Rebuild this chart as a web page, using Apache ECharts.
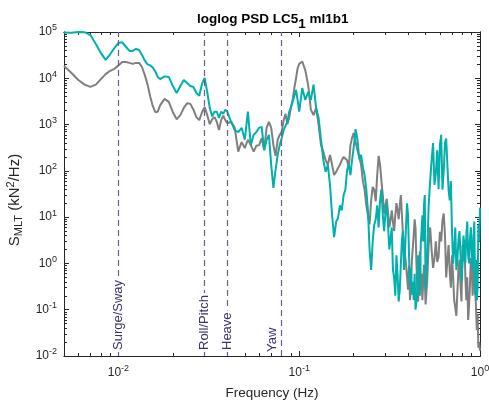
<!DOCTYPE html>
<html><head><meta charset="utf-8">
<script src="https://cdn.jsdelivr.net/npm/echarts@6/dist/echarts.min.js"></script>
<style>html,body{margin:0;padding:0;background:#fff}#c{width:489px;height:406px}</style>
</head><body><div id="c"></div><script>
// Frequency grid (Hz)
const freq = [
 0.005,0.0055,0.006,0.0065,0.007,0.0075,0.008,0.0085,0.009,0.0095,0.010,0.0105,0.011,0.0115,0.012,0.0125,0.013,0.0135,0.014,0.0145,0.015,0.0155,0.016,0.0165,
 0.017,0.018,0.019,0.020,0.021,0.022,0.023,0.024,0.025,0.026,0.027,0.028,0.029,0.030,0.031,0.032,0.033,0.034,0.035,0.036,0.037,0.038,0.039,0.040,
 0.042,0.044,0.046,0.048,0.050,0.052,0.054,0.056,0.058,0.060,0.062,0.064,0.066,0.068,0.070,0.072,0.074,0.076,0.078,0.080,0.082,0.084,0.086,0.088,0.090,0.092,0.094,0.096,0.098,0.100,
 0.104,0.108,0.112,0.116,0.120,0.124,0.128,0.132,0.136,0.140,0.144,0.148,0.152,0.156,0.160,0.164,0.168,0.172,0.176,0.180,0.184,0.188,0.192,0.196,0.200,
 0.205,0.21,0.215,0.22,0.225,0.23,0.235,0.24,0.245,0.25,0.255,0.26,0.265,0.27,0.275,0.28,0.285,0.29,0.295,0.30,
 0.305,0.31,0.315,0.32,0.325,0.33,0.335,0.34,0.345,0.35,0.355,0.36,0.365,0.37,0.375,0.38,0.385,0.39,0.395,0.40,
 0.405,0.41,0.415,0.42,0.425,0.43,0.435,0.44,0.445,0.45,0.455,0.46,0.465,0.47,0.475,0.48,0.485,0.49,0.495,0.50,
 0.51,0.52,0.53,0.54,0.55,0.56,0.57,0.58,0.59,0.60,0.61,0.62,0.63,0.64,0.65,0.66,0.67,0.68,0.69,0.70,0.71,0.72,0.73,0.74,0.75,
 0.76,0.77,0.78,0.79,0.80,0.81,0.82,0.83,0.84,0.85,0.86,0.87,0.88,0.89,0.90,0.91,0.92,0.93,0.94,0.95,0.96,0.97,0.98,0.99,1.00
];
// PSD, gray series (kN^2/Hz)
const psdGray = [
 18500,13000,9200,7300,6500,7300,9600,12300,14500,16000,19000,22500,22500,21500,20500,21500,21500,17500,11700,7300,4000,2500,1850,1900,
 2600,3600,3100,1850,1300,1600,2300,2900,2800,2100,1450,1250,1850,2400,1600,1020,1300,1450,1150,760,1250,1550,1250,1070,
 1150,850,260,420,310,470,360,260,350,360,510,280,850,1150,850,360,210,470,600,690,1250,1700,1020,1400,2400,3400,6200,10000,16500,20500,
 23000,15000,7300,2100,1600,2300,1000,360,260,170,135,220,135,81,95,115,135,170,200,220,170,115,360,510,660,
 420,280,300,135,60,39,18,11,7,23,45,39,22,81,210,135,60,30,12,18,
 25,12.5,6,8.7,14,7.9,5,11,20,14,9,18,30,11,4,2.5,1.5,0.93,0.5,0.27,
 0.9,0.16,0.3,1.18,2.2,4.2,9,5.9,1.0,0.27,0.15,0.72,1.8,0.35,0.6,0.16,0.4,0.93,0.5,0.13,
 0.4,2.5,6,1.95,0.8,1.3,3,1.08,1.4,4.8,3,8.7,12,4.2,0.5,1.18,2.5,0.66,0.3,1.5,0.5,0.16,0.11,0.074,0.25,
 0.72,1.2,0.35,0.15,2.5,1.1,3.3,0.5,0.16,0.5,0.060,0.12,0.35,1.3,0.93,0.2,0.46,0.9,0.27,0.12,0.036,0.08,0.015,0.02,0.013
];
// PSD, teal series (kN^2/Hz)
const psdTeal = [
 98000,96000,100000,99000,86000,55000,35000,25000,33000,45000,58000,60000,48000,39000,39000,43000,41000,32000,24000,20000,19000,17000,14000,10700,
 9600,11000,10700,6800,4800,6800,9200,7900,6800,6500,4800,4200,7600,10200,5000,2300,1500,1900,1900,1400,1900,1700,2100,1900,
 1150,760,690,850,470,1900,360,600,690,850,890,280,470,600,135,43,105,220,360,510,760,940,1150,1900,2300,3100,4200,5600,3400,1900,
 6200,3400,5000,3400,7300,2300,1400,470,170,95,135,50,11,3.7,7.9,9.6,18,14,30,39,105,135,81,170,310,
 800,470,180,220,120,81,40,14,2,0.72,3,6.8,9,18,6,23,40,11,5,12.5,
 20,6.8,2,3.3,6,0.72,0.5,0.20,1.5,0.56,0.15,0.27,1,3.3,5,0.72,2,6.8,20,11,
 1.5,0.35,0.8,0.21,0.4,0.16,0.6,0.10,0.15,0.27,1.5,0.72,0.2,2.5,5,11,3,18,30,0.27,
 1.2,18,60,170,400,50,90,280,40,360,600,39,100,400,500,135,40,23,60,5.2,1.0,1.95,6,0.72,1.2,
 3.3,5,1.5,0.4,0.93,4,2.2,1.0,3.9,8,1.5,1.0,3.3,6,1.95,0.7,3.6,8,0.21,1.2,0.16,0.3,6.8,3,16
];
// Rigid-body mode frequencies (Hz) and their labels
const modeFreqs = [0.0105, 0.030, 0.039, 0.077];
const modeNames = ['Surge/Sway', 'Roll/Pitch', 'Heave', 'Yaw'];
// Tick labels
const xTicks = [0.01, 0.1, 1];
const yTicks = [1e-2, 1e-1, 1e0, 1e1, 1e2, 1e3, 1e4, 1e5];

const FONT = '"Liberation Sans", Arial, Helvetica, sans-serif';
const INK = '#262626';
function minorOf(majors, lo, hi) {
  const out = [];
  majors.forEach(m => { for (let k = 2; k <= 9; k++) { const v = m * k; if (v >= lo * 0.999 && v <= hi * 1.001) out.push(v); } });
  return out;
}
const xMinor = minorOf([0.001, 0.01, 0.1], 0.005, 1);
const yMinor = minorOf([1e-2, 1e-1, 1e0, 1e1, 1e2, 1e3, 1e4], 1e-2, 1e5);
const supRich = {
  b: { fontSize: 12, color: INK, fontFamily: FONT },
  s: { fontSize: 9, color: INK, fontFamily: FONT, padding: [0, 0, 8, 0] }
};
const powFmt = v => '{b|10}{s|' + Math.round(Math.log10(v)) + '}';

function xAx(pos, ticks, len, withLabel) {
  return {
    type: 'log', logBase: 10, min: 0.005, max: 1, position: pos,
    axisLine: { show: true, onZero: false, lineStyle: { color: INK, width: 1 } },
    axisTick: { show: true, inside: true, length: len, customValues: ticks, lineStyle: { color: INK, width: 1 } },
    axisLabel: withLabel ? { show: true, customValues: xTicks, formatter: powFmt, rich: supRich, margin: 8 } : { show: false },
    splitLine: { show: false }, minorTick: { show: false }
  };
}
function yAx(pos, ticks, len, withLabel) {
  return {
    type: 'log', logBase: 10, min: 1e-2, max: 1e5, position: pos,
    axisLine: { show: true, onZero: false, lineStyle: { color: INK, width: 1 } },
    axisTick: { show: true, inside: true, length: len, customValues: ticks, lineStyle: { color: INK, width: 1 } },
    axisLabel: withLabel ? { show: true, customValues: yTicks, formatter: powFmt, rich: supRich, margin: 7 } : { show: false },
    splitLine: { show: false }, minorTick: { show: false }
  };
}
const xMain = xAx('bottom', xTicks, 5, true);
xMain.name = 'Frequency (Hz)';
xMain.nameLocation = 'middle';
xMain.nameGap = 30;
xMain.nameTextStyle = { fontSize: 13.5, color: INK, fontFamily: FONT };
const yMain = yAx('left', yTicks, 5, true);
yMain.name = 'S{sub|MLT} (kN{sup|2}/Hz)';
yMain.nameLocation = 'middle';
yMain.nameGap = 33;
yMain.nameRotate = 90;
yMain.nameTextStyle = {
  fontSize: 15, color: INK, fontFamily: FONT, padding: [0, 12, 0, 0],
  rich: {
    sub: { fontSize: 11, color: INK, fontFamily: FONT, padding: [8, 0, 0, 0] },
    sup: { fontSize: 11, color: INK, fontFamily: FONT, padding: [0, 0, 8, 0] }
  }
};

const chart = echarts.init(document.getElementById('c'), null, { renderer: 'canvas' });
chart.setOption({
  animation: false,
  backgroundColor: '#fff',
  title: {
    text: 'loglog PSD LC5{sub|1} ml1b1',
    left: 192, top: 3,
    textStyle: {
      fontSize: 13.5, fontWeight: 'bold', color: '#000', fontFamily: FONT,
      rich: { sub: { fontSize: 13.5, fontWeight: 'bold', color: '#000', fontFamily: FONT, padding: [9, 0, 0, 0] } }
    }
  },
  grid: { left: 64, right: 9, top: 32, bottom: 50, containLabel: false, outerBoundsMode: 'none' },
  xAxis: [xMain, xAx('top', xTicks, 5, false), xAx('bottom', xMinor, 3, false), xAx('top', xMinor, 3, false)],
  yAxis: [yMain, yAx('right', yTicks, 5, false), yAx('left', yMinor, 3, false), yAx('right', yMinor, 3, false)],
  series: [
    {
      name: 'gray', type: 'line', xAxisIndex: 0, yAxisIndex: 0, symbol: 'none', smooth: false,
      data: freq.map((f, i) => [f, psdGray[i]]),
      lineStyle: { color: '#7f7f7f', width: 2 },
      markLine: {
        silent: true, symbol: 'none', animation: false,
        lineStyle: { type: [6, 4], color: '#6b5b95', width: 1.2 },
        data: modeFreqs.map((f, i) => ({
          xAxis: f,
          label: {
            show: true, formatter: modeNames[i],
            position: i === 3 ? 'insideStartTop' : 'insideStart',
            distance: i === 3 ? [4, 3] : 4,
            color: '#3e2f6b', fontSize: 13, fontFamily: FONT,
            backgroundColor: i === 3 ? 'transparent' : '#fff',
            padding: i === 3 ? 0 : [0, 2]
          }
        }))
      }
    },
    {
      name: 'teal', type: 'line', xAxisIndex: 0, yAxisIndex: 0, symbol: 'none', smooth: false,
      data: freq.map((f, i) => [f, psdTeal[i]]),
      lineStyle: { color: '#00b0ad', width: 2 }
    }
  ]
});
</script></body></html>
